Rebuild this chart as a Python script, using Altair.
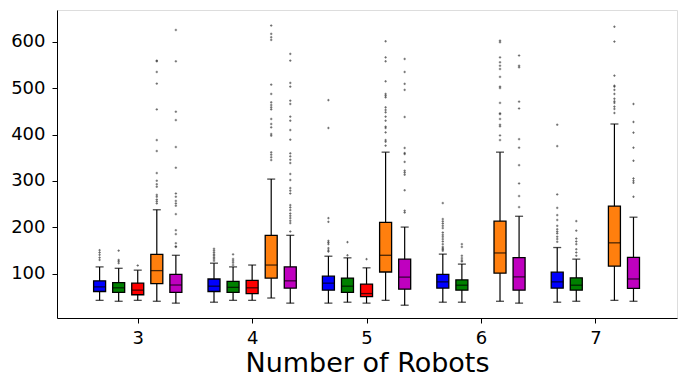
import altair as alt
import pandas as pd

robots = [3, 4, 5, 6, 7]
series = ["blue", "green", "red", "orange", "magenta"]
colors = ["#0000ff", "#008000", "#ff0000", "#ff7f0e", "#bf00bf"]
offsets = [-1/3, -1/6, 0.0, 1/6, 1/3]

# box statistics per series: one entry per robot count (None = not present)
# (whisker low, q1, median, q3, whisker high)
stats = {
    "blue": [(43, 62, 72, 85, 115), (39, 62, 73.5, 89, 123), (37, 65, 80, 95, 138),
             (39, 69.4, 82.8, 99, 142.5), (39, 69.4, 82.8, 103.6, 156.7)],
    "green": [(41, 60, 70, 81, 112), (43, 60, 71, 84, 115), (39, 60, 73.5, 91, 134.5),
              (39, 65, 75.6, 87, 121), (41, 65, 75.6, 91.4, 131.7)],
    "red": [(43, 55, 65, 80, 108), (43, 57.6, 70, 86, 119), (37, 51, 57.6, 78, 113),
            None, None],
    "orange": [(41, 79, 107, 142, 238), (48, 91, 119, 183, 304), (43, 104, 140, 211, 362),
               (41, 101.5, 145, 213.5, 362), (43, 116.6, 166.8, 246, 422.6)],
    "magenta": [(37, 60, 76, 99, 140), (37, 69.4, 85, 115, 183), (32.5, 67, 93, 131.7, 200.7),
                (37, 65, 93.5, 135, 224), (41, 68.7, 89, 135.6, 222)],
}

outliers = {
    "blue": [
        [151, 146, 141, 135, 130],
        [154, 150, 146, 142, 139, 135, 132, 128],
        [474, 414, 220, 212, 171, 167.5, 164, 155.4, 151, 148],
        [252.4, 218, 213, 208.4, 203.4, 198.5, 189, 184, 179.7, 174.8, 169.7, 164, 158, 155, 152.4, 149.6],
        [421, 375, 271, 242, 226.5, 216, 203.4, 196, 191, 187, 180, 175, 169],
    ],
    "green": [
        [150, 130, 127, 123],
        [142, 132, 128, 124, 119],
        [168.3, 140],
        [164, 158, 139, 134, 129.5, 126.5],
        [213.6, 193, 176, 169.7, 164, 153, 146, 139],
    ],
    "red": [
        [118],
        [],
        [131.7],
        [],
        [],
    ],
    "orange": [
        [251.6, 256, 260, 266, 270, 287.5, 293, 300.4, 317, 364.4, 388, 454, 509.5, 534.6, 557.6, 559],
        [345, 351, 356.5, 361.6, 397.4, 401, 415.4, 422.6, 433.4, 454, 458.5, 463.5, 469.3, 487.3,
         507.3, 603.6, 609.4, 616.6, 634.5],
        [376, 384.5, 388, 404.5, 414, 416.8, 429.7, 438.4, 447.7, 452.8, 458.5, 480, 483.6, 487.3,
         514.5, 557.6, 566, 600.7],
        [388, 398, 417.5, 421, 433.4, 444, 445.5, 468, 500, 503, 524, 541, 548, 555.5, 566, 598.6, 602],
        [446.3, 455, 460, 468, 471.4, 477, 487.3, 496, 503, 505, 526.7, 600, 632],
    ],
    "magenta": [
        [158, 159, 166, 185.6, 194, 228.6, 246.6, 251.6, 257, 266, 273, 328.4, 373, 431, 449, 557.6, 625],
        [191.2, 209.3, 214.2, 220, 225, 230, 237.3, 243, 248, 273, 279, 284.7, 302, 315, 338.6, 345.7,
         353, 359.4, 388.8, 409.6, 429.7, 438.4, 465.7, 472.8, 503, 511, 559, 573.5],
        [232, 236, 280, 313.4, 318, 322, 341, 358, 360, 371, 437.7, 496, 509, 534.6, 562.6],
        [243.7, 267.5, 294.6, 334, 371.6, 390, 456, 470.7, 544.6, 548, 570],
        [266, 296, 300.4, 305.4, 343.5, 371.6, 404, 427, 465.7],
    ],
}

y_ticks = [100, 200, 300, 400, 500, 600]

box_rows = []
out_rows = []
for s, off in zip(series, offsets):
    for i, r in enumerate(robots):
        st = stats[s][i]
        if st is None:
            continue
        lo, q1, med, q3, hi = st
        box_rows.append(dict(series=s, robots=r, pos=r + off, lo=lo, q1=q1, med=med, q3=q3, hi=hi))
        for v in outliers[s][i]:
            out_rows.append(dict(series=s, robots=r, pos=r + off, value=v))

boxes = pd.DataFrame(box_rows)
outs = pd.DataFrame(out_rows)

xscale = alt.Scale(domain=[2.338, 7.67], nice=False, zero=False)
yscale = alt.Scale(domain=[5, 668], nice=False, zero=False)
cscale = alt.Scale(domain=series, range=colors)

FONT = "DejaVu Sans"
xaxis = alt.Axis(values=robots, title="Number of Robots", grid=False, labelFontSize=18,
                 titleFontSize=27, titleFontWeight="normal", labelFont=FONT, titleFont=FONT,
                 labelColor="black", titleColor="black", tickColor="black", domainColor="black",
                 tickSize=5, labelPadding=6, titlePadding=3, labelAngle=0, format="d")
yaxis = alt.Axis(values=y_ticks, title=None, grid=False, labelFontSize=18, labelFont=FONT,
                 labelColor="black", tickColor="black", domainColor="black", tickSize=5,
                 labelPadding=7)

base = alt.Chart(boxes)
whisk = base.mark_rule(color="black", strokeWidth=1.2).encode(
    x=alt.X("pos:Q", scale=xscale, axis=xaxis),
    y=alt.Y("lo:Q", scale=yscale, axis=yaxis),
    y2="hi:Q",
)
caps_lo = base.mark_tick(color="black", orient="horizontal", size=8, thickness=1.3).encode(
    x=alt.X("pos:Q", scale=xscale), y=alt.Y("lo:Q", scale=yscale))
caps_hi = base.mark_tick(color="black", orient="horizontal", size=8, thickness=1.3).encode(
    x=alt.X("pos:Q", scale=xscale), y=alt.Y("hi:Q", scale=yscale))
box = base.mark_bar(size=12, stroke="black", strokeWidth=1.3).encode(
    x=alt.X("pos:Q", scale=xscale),
    y=alt.Y("q1:Q", scale=yscale),
    y2="q3:Q",
    color=alt.Color("series:N", scale=cscale, legend=None),
)
median = base.mark_tick(color="black", orient="horizontal", size=12, thickness=1.3).encode(
    x=alt.X("pos:Q", scale=xscale), y=alt.Y("med:Q", scale=yscale))
fliers = alt.Chart(outs).mark_point(
    shape="M-1,0L1,0M0,-1L0,1", size=6, filled=False, color="#333333", strokeWidth=0.8, opacity=0.8
).encode(x=alt.X("pos:Q", scale=xscale), y=alt.Y("value:Q", scale=yscale))

chart = alt.layer(whisk, caps_lo, caps_hi, box, median, fliers).properties(
    width=620, height=308,
    autosize=alt.AutoSizeParams(type="none"),
    padding={"left": 49, "top": 2, "right": 1, "bottom": 64},
).configure_view(stroke="black", strokeWidth=1.2).configure(background="white")

chart.save("out.html", embed_options={"renderer": "svg", "actions": False})
